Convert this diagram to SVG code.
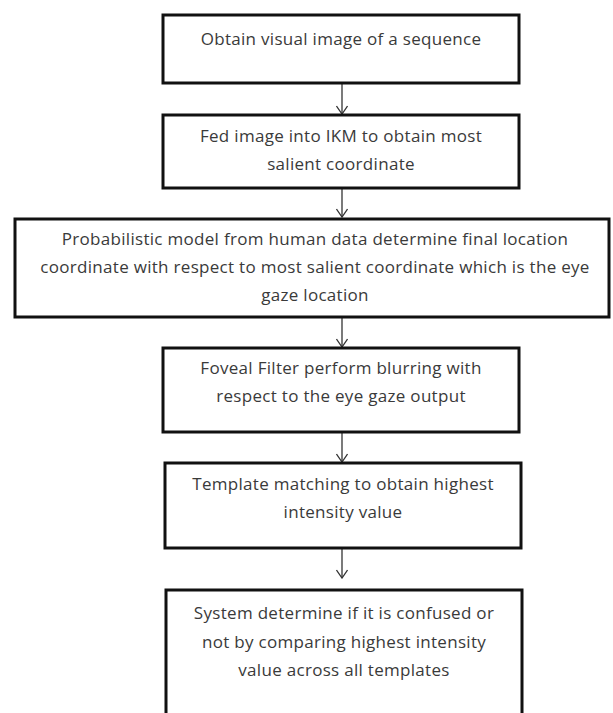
<svg xmlns="http://www.w3.org/2000/svg" width="613" height="713" viewBox="0 0 613 713">
<style>
.box{fill:#fff;stroke:#111;stroke-width:3}
.t{font-family:"Open Sans","Liberation Sans",sans-serif;font-size:17px;letter-spacing:0.3px;fill:#3a3a3a;text-anchor:middle}
.c{stroke:#333;stroke-width:1.3;fill:none}
</style>
<defs>
<marker id="v" viewBox="0 0 10 12" refX="9" refY="6" markerWidth="10" markerHeight="12" markerUnits="userSpaceOnUse" orient="auto">
<polyline points="1,0.5 9,6 1,11.5" fill="none" stroke="#333" stroke-width="1.3"/>
</marker>
</defs>
<rect width="613" height="713" fill="#fff"/>
<g id="connectors">
<line class="c" x1="342" y1="84" x2="342" y2="114" marker-end="url(#v)"/>
<line class="c" x1="342" y1="189" x2="342" y2="217" marker-end="url(#v)"/>
<line class="c" x1="342" y1="318" x2="342" y2="347" marker-end="url(#v)"/>
<line class="c" x1="342" y1="433" x2="342" y2="462" marker-end="url(#v)"/>
<line class="c" x1="342" y1="549" x2="342" y2="578" marker-end="url(#v)"/>
</g>
<g id="n1">
<rect class="box" x="163" y="15" width="356" height="68"/>
<text class="t" x="341" y="45">Obtain visual image of a sequence</text>
</g>
<g id="n2">
<rect class="box" x="163" y="115" width="356" height="73"/>
<text class="t" x="341" y="142">Fed image into IKM to obtain most</text>
<text class="t" x="341" y="170">salient coordinate</text>
</g>
<g id="n3">
<rect class="box" x="15" y="219" width="594" height="98"/>
<text class="t" x="315" y="245">Probabilistic model from human data determine final location</text>
<text class="t" x="315" y="273">coordinate with respect to most salient coordinate which is the eye</text>
<text class="t" x="315" y="301">gaze location</text>
</g>
<g id="n4">
<rect class="box" x="163" y="348" width="356" height="84"/>
<text class="t" x="341" y="374">Foveal Filter perform blurring with</text>
<text class="t" x="341" y="402">respect to the eye gaze output</text>
</g>
<g id="n5">
<rect class="box" x="165" y="463" width="356" height="85"/>
<text class="t" x="343" y="490">Template matching to obtain highest</text>
<text class="t" x="343" y="518">intensity value</text>
</g>
<g id="n6">
<rect class="box" x="166" y="590" width="356" height="140"/>
<text class="t" x="344" y="619">System determine if it is confused or</text>
<text class="t" x="344" y="648">not by comparing highest intensity</text>
<text class="t" x="344" y="676">value across all templates</text>
</g>
</svg>
